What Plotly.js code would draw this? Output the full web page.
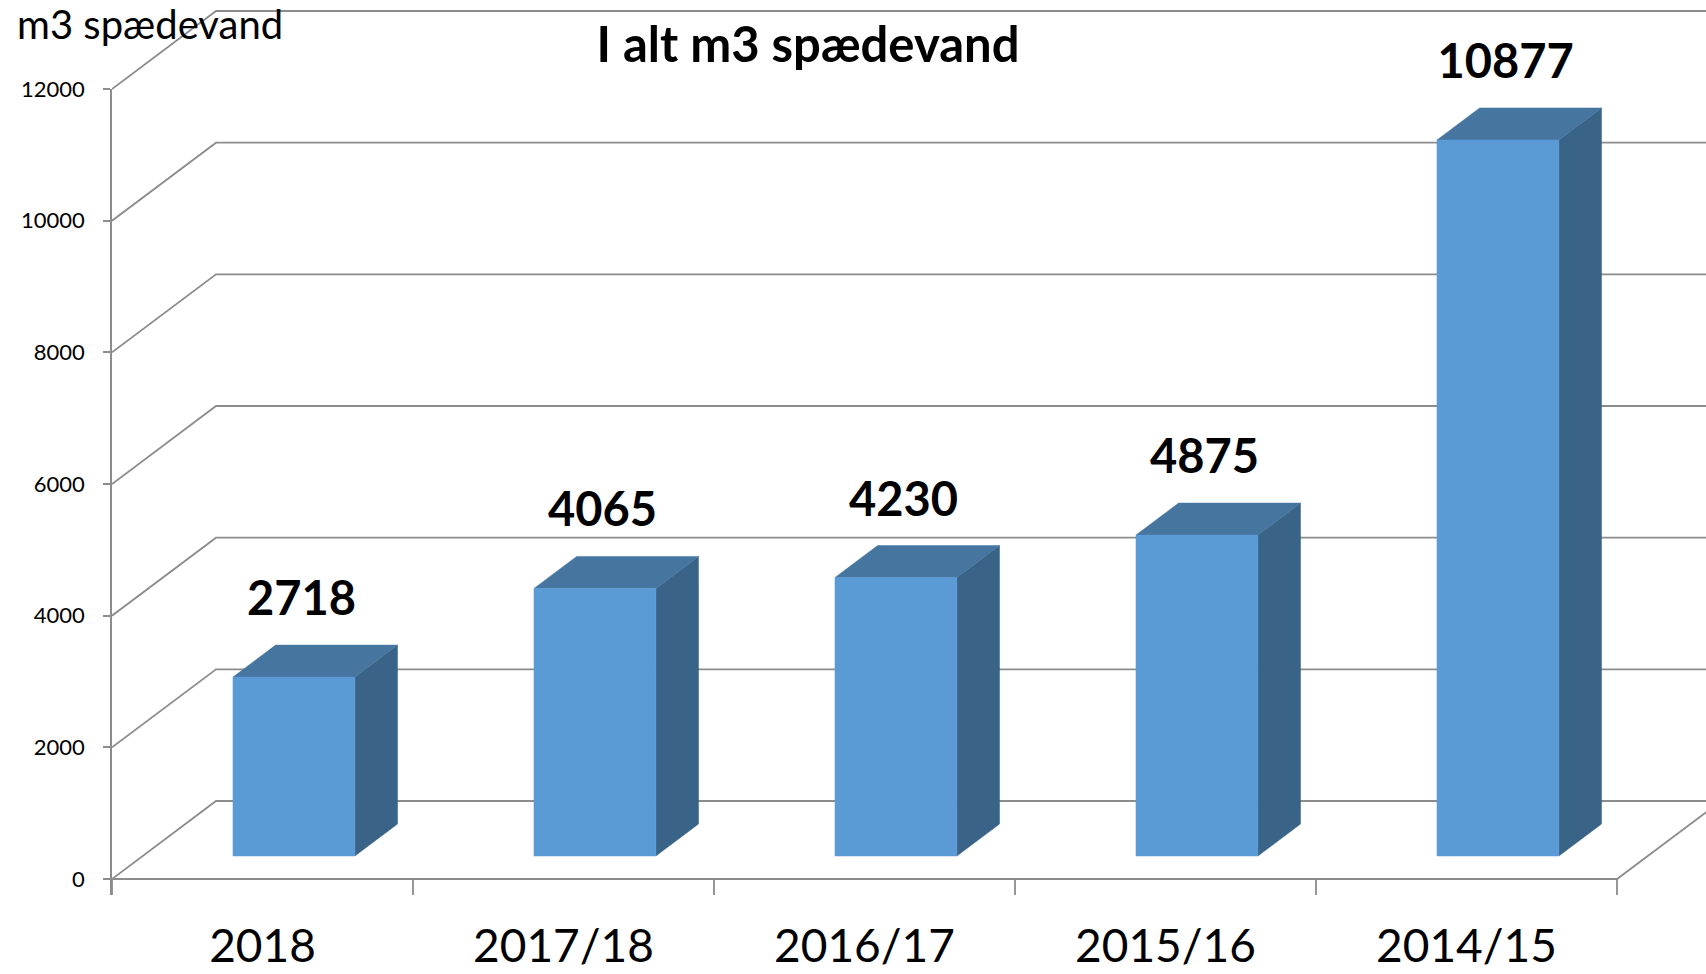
<!DOCTYPE html>
<html>
<head>
<meta charset="utf-8">
<script src="https://cdn.plot.ly/plotly-3.0.1.min.js"></script>
<style>html,body{margin:0;padding:0;background:#fff;}#chart{width:1706px;height:974px;}</style>
</head>
<body>
<div id="chart"></div>
<script>
// ---- data ----
const categories = ['2018', '2017/18', '2016/17', '2015/16', '2014/15'];
const values = [2718, 4065, 4230, 4875, 10877];
const yTicks = [0, 2000, 4000, 6000, 8000, 10000, 12000];
const yTickLabels = ['0', '2000', '4000', '6000', '8000', '10000', '12000'];
const chartTitle = 'I alt m3 spædevand';
const yLabel = 'm3 spædevand';

// ---- geometry (pixels of the page) ----
const W = 1706, H = 974;
const leftPx = 112, catPx = 301, zeroPx = 879, topTickPx = 89, bottomPx = 895;
const ppu = (zeroPx - topTickPx) / 12000;      // px per value unit
const DX = 104 / catPx;                         // depth offset in category units
const DY = 78 / ppu;                            // depth offset in value units
const yLo = -(bottomPx - zeroPx) / ppu;
const yHi = zeroPx / ppu;
const xHi = (W - leftPx) / catPx;
const n = categories.length;
const f1 = 0.295, f2 = 0.705;                   // bar depth position
const bx0 = 0.30, bx1 = 0.705;                  // bar span within category

const gridColor = '#8c8c8c';
const frontColor = '#5b9bd5', topColor = '#4676a0', sideColor = '#3a6487';
const font = 'Lato, "Open Sans", sans-serif';

const traces = [];
// walls / gridlines
let gx = [], gy = [];
yTicks.forEach(v => {
  gx.push(0, DX, n + DX, null);
  gy.push(v, v + DY, v + DY, null);
});
// floor front + right edge
gx.push(0, n, n + DX, null); gy.push(0, 0, DY, null);
traces.push({x: gx, y: gy, xaxis: 'x', yaxis: 'y2', mode: 'lines',
  line: {color: gridColor, width: 1.8}, hoverinfo: 'skip', showlegend: false});
// x tick marks hanging below floor
let tx = [], ty = [];
for (let i = 0; i <= n; i++) { tx.push(i, i, null); ty.push(0, yLo, null); }
traces.push({x: tx, y: ty, xaxis: 'x', yaxis: 'y2', mode: 'lines',
  line: {color: gridColor, width: 1.8}, hoverinfo: 'skip', showlegend: false});

// bars
values.forEach((v, i) => {
  const xa = i + bx0, xb = i + bx1;
  const side = {x: [xb + f1 * DX, xb + f2 * DX, xb + f2 * DX, xb + f1 * DX, xb + f1 * DX],
                y: [f1 * DY, f2 * DY, v + f2 * DY, v + f1 * DY, f1 * DY], c: sideColor};
  const top = {x: [xa + f1 * DX, xb + f1 * DX, xb + f2 * DX, xa + f2 * DX, xa + f1 * DX],
               y: [v + f1 * DY, v + f1 * DY, v + f2 * DY, v + f2 * DY, v + f1 * DY], c: topColor};
  const front = {x: [xa + f1 * DX, xb + f1 * DX, xb + f1 * DX, xa + f1 * DX, xa + f1 * DX],
                 y: [f1 * DY, f1 * DY, v + f1 * DY, v + f1 * DY, f1 * DY], c: frontColor};
  [side, top, front].forEach(p => traces.push({
    x: p.x, y: p.y, xaxis: 'x', yaxis: 'y2', mode: 'lines', fill: 'toself',
    fillcolor: p.c, line: {color: p.c, width: 0.5}, hoverinfo: 'skip', showlegend: false
  }));
});

// data labels
traces.push({
  x: values.map((v, i) => i + 0.5 + 0.13),
  y: values.map(v => v + 1470),
  text: values.map(v => String(v)),
  xaxis: 'x', yaxis: 'y2', mode: 'text', cliponaxis: false,
  textfont: {family: font, size: 47, color: '#000', weight: 'bold'},
  hoverinfo: 'skip', showlegend: false
});
// invisible trace on the tick axis subplot
traces.push({x: [0], y: [0], xaxis: 'x', yaxis: 'y', mode: 'markers',
  marker: {opacity: 0}, hoverinfo: 'skip', showlegend: false});

const layout = {
  width: W, height: H,
  margin: {l: leftPx, r: 0, t: 0, b: H - bottomPx, pad: 0},
  paper_bgcolor: '#ffffff', plot_bgcolor: 'rgba(0,0,0,0)',
  showlegend: false,
  font: {family: font, color: '#000'},
  title: {text: chartTitle, font: {family: font, size: 49, color: '#000', weight: 'bold'},
    xref: 'container', yref: 'container', x: 808 / W, y: 1 - 45 / H,
    xanchor: 'center', yanchor: 'middle'},
  xaxis: {domain: [0, 1], range: [0, xHi], anchor: 'y',
    tickmode: 'array', tickvals: categories.map((c, i) => i + 0.5), ticktext: categories,
    ticks: 'outside', ticklen: 11, tickcolor: 'rgba(0,0,0,0)',
    showgrid: false, zeroline: false, showline: false,
    tickfont: {family: font, size: 46, color: '#000'}, fixedrange: true},
  yaxis: {domain: [0, (bottomPx - topTickPx) / (bottomPx)], range: [yLo, 12000], anchor: 'x',
    tickmode: 'array', tickvals: yTicks, ticktext: yTickLabels,
    ticks: 'outside', ticklen: 7, tickcolor: gridColor, tickwidth: 1.8,
    ticklabelstandoff: 14,
    showline: true, linecolor: gridColor, linewidth: 1.8,
    showgrid: false, zeroline: false,
    tickfont: {family: font, size: 22, color: '#000'}, fixedrange: true},
  yaxis2: {domain: [0, 1], range: [yLo, yHi], anchor: 'x', visible: false, fixedrange: true},
  annotations: [{
    text: yLabel, xref: 'paper', yref: 'paper',
    x: (15 - leftPx) / (W - leftPx), y: (bottomPx - 24) / bottomPx,
    xanchor: 'left', yanchor: 'middle', showarrow: false,
    font: {family: font, size: 40, color: '#000'}
  }]
};

Plotly.newPlot('chart', traces, layout, {displayModeBar: false, staticPlot: true});
</script>
</body>
</html>
